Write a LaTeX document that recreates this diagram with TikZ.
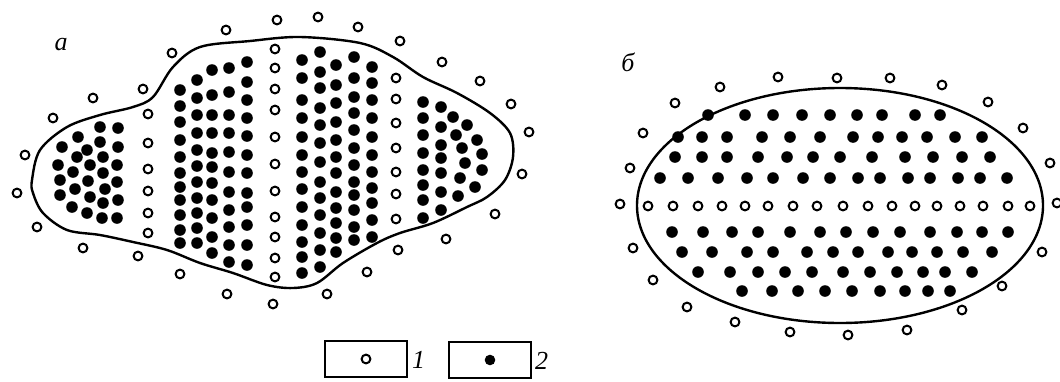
\documentclass[tikz,border=0pt]{standalone}
\usepackage{fontspec}
\setmainfont{Liberation Serif}
\begin{document}
\begin{tikzpicture}[x=1pt,y=-1pt,
  contour/.style={line width=2.4pt, line join=round},
  opencirc/.style={draw=black, line width=2pt, fill=white},
  fulldot/.style={fill=black},
  legbox/.style={draw, line width=1.8pt, minimum width=82pt, minimum height=36pt, inner sep=0pt},
  lab/.style={font=\fontsize{26}{26}\selectfont\itshape, inner sep=0pt}]
\useasboundingbox (0,0) rectangle (1060,381);
% ---------- figure a ----------
\node[lab] (la) at (61,45) {а};
\draw[contour] plot[smooth cycle, tension=0.55] coordinates {
 (32,180) (40,150) (67,127) (100,115) (133,107) (153,97) (173,67) (200,47)
 (250,41) (300,37) (360,43) (393,57) (423,77) (457,93) (490,113) (510,133)
 (513,157) (505,180) (487,197) (467,207) (433,223) (400,233) (377,243)
 (343,263) (317,283) (293,288) (267,285) (233,273) (200,263) (167,250)
 (133,242) (100,235) (67,230) (43,213) (33,193)};
% outer open circles
\foreach \p in {(17,193),(25,155),(53,118),(93,98),(143,89),(172,53),(226,30),
 (277,20),(318,17),(358,27),(400,41),(442,62),(480,81),(511,104),(529,132),
 (522,174),(495,214),(446,239),(398,250),(367,272),(327,294),(273,304),
 (227,294),(180,274),(138,256),(83,248),(37,227)}
  \draw[opencirc] \p circle[radius=4.4];
% inner open columns
\foreach \y in {114,143,169,191,213,233} \draw[opencirc] (148,\y) circle[radius=4.4];
\foreach \y in {49,68,89,110,137,164,191,217,237,258,277} \draw[opencirc] (275,\y) circle[radius=4.4];
\foreach \y in {78,99,123,148,172,194,219} \draw[opencirc] (396,\y) circle[radius=4.4];
% left lobe dots
\foreach \p in {(100,127),(118,128),(78,137),(100,142),(118,147),(62,147),(87,150),
 (77,157),(103,157),(58,165),(90,165),(117,165),(73,172),(103,173),(60,180),
 (88,181),(117,182),(75,189),(105,189),(60,195),(90,197),(118,200),(103,203),
 (72,207),(87,213),(102,218),(117,218)}
  \fill[fulldot] \p circle[radius=5.8];
% region 2
\foreach \y in {90,106,122,140,157,173,187,200,215,230,243} \fill[fulldot] (180,\y) circle[radius=5.8];
\foreach \y in {80,98,115,133,150,166,182,198,213,228,243} \fill[fulldot] (197,\y) circle[radius=5.8];
\foreach \y in {70,95,115,133,153,167,183,200,218,237,253} \fill[fulldot] (212,\y) circle[radius=5.8];
\foreach \y in {68,92,115,133,152,172,192,210,227,245,262} \fill[fulldot] (229,\y) circle[radius=5.8];
\foreach \y in {62,82,100,118,136,155,173,193,207,225,245,265} \fill[fulldot] (247,\y) circle[radius=5.8];
% region 3
\foreach \y in {60,78,100,118,137,155,172,189,207,225,242,257,273} \fill[fulldot] (302,\y) circle[radius=5.8];
\foreach \y in {52,72,88,108,125,143,162,182,198,215,233,250,267} \fill[fulldot] (320,\y) circle[radius=5.8];
\foreach \y in {65,85,103,122,140,157,173,192,208,223,238,252} \fill[fulldot] (336,\y) circle[radius=5.8];
\foreach \y in {57,78,97,113,130,148,165,182,195,210,227,240} \fill[fulldot] (354,\y) circle[radius=5.8];
\foreach \y in {67,83,100,118,137,155,172,188,203,220,237} \fill[fulldot] (372,\y) circle[radius=5.8];
% region 4
\foreach \y in {102,118,135,153,170,185,200,218} \fill[fulldot] (423,\y) circle[radius=5.8];
\foreach \y in {107,127,145,158,173,192,210} \fill[fulldot] (441,\y) circle[radius=5.8];
\foreach \p in {(453,117),(456,135),(462,148),(465,163),(460,178),(458,196),
 (467,125),(477,140),(482,154),(482,170),(475,187)}
  \fill[fulldot] \p circle[radius=5.8];
% ---------- figure b ----------
\node[lab] (lb) at (628,62) {б};
\draw[contour] (840,205.5) ellipse[x radius=203, y radius=117.5];
\foreach \p in {(620,204),(630,168),(643,133),(675,103),(720,87),(778,77),(837,78),
 (890,78),(942,85),(988,102),(1023,128),(1050,163),(1057,203),(1042,252),
 (1002,286),(962,310),(907,330),(848,335),(790,332),(735,322),(687,307),
 (653,280),(633,248)}
  \draw[opencirc] \p circle[radius=4.4];
\foreach \x in {648,673,698,722,745,768,793,817,843,868,892,915,937,960,983,1008,1030}
  \draw[opencirc] (\x,206) circle[radius=4.4];
\foreach \x in {708,745,773,802,830,857,882,915,940} \fill[fulldot] (\x,115) circle[radius=5.8];
\foreach \x in {678,702,727,762,790,820,853,878,902,927,955,982} \fill[fulldot] (\x,137) circle[radius=5.8];
\foreach \x in {675,702,727,758,787,813,840,872,905,933,962,990} \fill[fulldot] (\x,157) circle[radius=5.8];
\foreach \x in {660,688,718,747,773,803,830,858,880,908,930,958,980,1007} \fill[fulldot] (\x,178) circle[radius=5.8];
\foreach \x in {672,703,732,758,790,820,846,873,900,930,957,982,1008} \fill[fulldot] (\x,232) circle[radius=5.8];
\foreach \x in {682,712,747,773,807,833,858,888,912,937,963,992} \fill[fulldot] (\x,252) circle[radius=5.8];
\foreach \x in {698,730,758,785,812,843,870,897,923,945,972} \fill[fulldot] (\x,272) circle[radius=5.8];
\foreach \x in {742,772,798,825,852,880,905,928,950} \fill[fulldot] (\x,291) circle[radius=5.8];
% ---------- legend ----------
\node[legbox] (box1) at (366,359) {};
\draw[opencirc] (box1.center) circle[radius=4.4];
\node[lab, anchor=west] (n1) at (412,360) {1};
\node[legbox] (box2) at (490,360) {};
\fill[fulldot] (box2.center) circle[radius=5.3];
\node[lab, anchor=west] (n2) at (535,361) {2};
\end{tikzpicture}
\end{document}
